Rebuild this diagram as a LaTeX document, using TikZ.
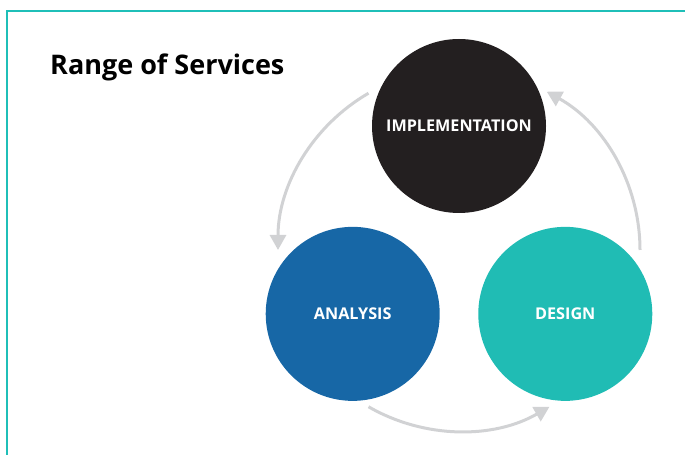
\documentclass[tikz,border=0pt]{standalone}
\usepackage{fontspec}
\setmainfont{Open Sans}
\usetikzlibrary{arrows.meta,calc}
\definecolor{frameteal}{HTML}{1FBFB8}
\definecolor{implcol}{HTML}{231F20}
\definecolor{analcol}{HTML}{1767A6}
\definecolor{desgcol}{HTML}{20BCB4}
\definecolor{arrowgray}{HTML}{D1D2D4}
\tikzset{
  phase/.style={circle, minimum size=174pt, inner sep=0pt, text=white, font=\fontsize{16.2}{19}\selectfont\bfseries},
  cyclearrow/.style={draw=arrowgray, line width=3pt, -{Triangle[length=15pt,width=16pt]}},
  frameline/.style={draw=frameteal, line width=1.5pt}
}
\begin{document}
\begin{tikzpicture}[x=1pt,y=1pt]
\useasboundingbox (0,0) rectangle (685,455);
\coordinate (fa) at (685,444);
\coordinate (fb) at (7,444);
\coordinate (fc) at (7,0);
\draw[frameline] (fa) -- (fb) -- (fc);
\node[anchor=base west, inner sep=0pt, font=\fontsize{27}{31}\selectfont\bfseries] (title) at (50,380) {Range of Services};
\coordinate (C) at (459,205);
\node[phase, fill=implcol] (impl) at ($(C)+(90:124)$) {IMPLEMENTATION};
\node[phase, fill=analcol] (anal) at ($(C)+(211:124)$) {ANALYSIS};
\node[phase, fill=desgcol] (desg) at ($(C)+(329:124)$) {DESIGN};
\coordinate (a1) at ($(C)+(120:181)$);
\coordinate (a2) at ($(C)+(240:181)$);
\coordinate (a3) at ($(C)+(0:181)$);
\draw[cyclearrow] (a1) arc[start angle=120, end angle=180, radius=181];
\draw[cyclearrow] (a2) arc[start angle=240, end angle=300, radius=181];
\draw[cyclearrow] (a3) arc[start angle=0, end angle=61, radius=181];
\end{tikzpicture}
\end{document}
